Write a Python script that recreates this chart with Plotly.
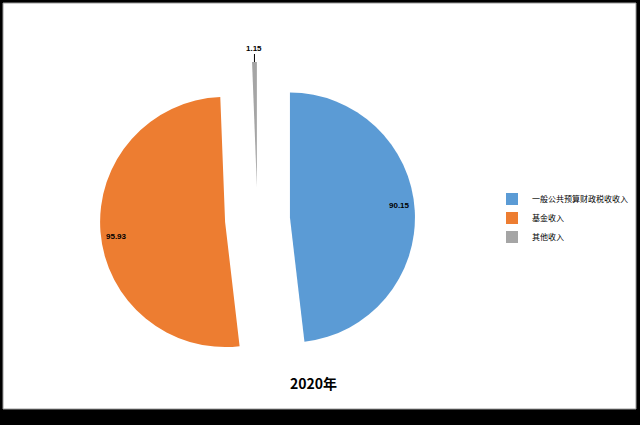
import math
import plotly.graph_objects as go

labels = ["一般公共预算财政税收收入", "基金收入", "其他收入"]
values = [90.15, 95.93, 1.15]
colors = ["#5B9BD5", "#ED7D31", "#A5A5A5"]
title_text = "2020年"

W, H = 640, 425
PULL = 0.26
LABEL_ANGLE_SHIFT = math.radians(-2.5)
# pie domain in pixels
dom_l, dom_r, dom_t, dom_b = 100, 415, 62, 377
cx_px = (dom_l + dom_r) / 2
cy_px = (dom_t + dom_b) / 2
r_px = min(dom_r - dom_l, dom_b - dom_t) / (2 * (1 + PULL))

fig = go.Figure(go.Pie(
    labels=labels,
    values=values,
    sort=False,
    direction="clockwise",
    rotation=0,
    pull=[PULL] * len(values),
    marker=dict(colors=colors, line=dict(width=0)),
    textinfo="none",
    hoverinfo="label+value",
    domain=dict(x=[dom_l / W, dom_r / W], y=[1 - dom_b / H, 1 - dom_t / H]),
))

# data labels placed from the slice angles
total = sum(values)
annotations = []
cum = 0.0
for i, v in enumerate(values):
    mid = (cum + v / 2) / total * 2 * math.pi
    cum += v
    if v / total > 0.05:
        ang = mid + LABEL_ANGLE_SHIFT
        dist = (PULL + 0.88) * r_px
        px = cx_px + dist * math.sin(ang)
        py = cy_px - dist * math.cos(ang)
        annotations.append(dict(
            x=px / W, y=1 - py / H, xref="paper", yref="paper",
            xanchor="center", yanchor="middle",
            text=f"<b>{v:.2f}</b>", showarrow=False,
            font=dict(family="Liberation Sans", size=8, color="#000000"),
        ))
    else:
        dist = (PULL + 1.0) * r_px
        px = cx_px + dist * math.sin(mid)
        py = cy_px - dist * math.cos(mid)
        annotations.append(dict(
            x=px / W, y=1 - py / H, xref="paper", yref="paper",
            text=f"<b>{v:.2f}</b>", showarrow=True, arrowhead=0,
            arrowwidth=1, arrowcolor="#000000", ax=0, ay=-14,
            font=dict(family="Liberation Sans", size=8, color="#000000"),
        ))

annotations.append(dict(
    x=313 / W, y=1 - 383 / H, xref="paper", yref="paper",
    xanchor="center", yanchor="middle",
    text=f"<b>{title_text}</b>", showarrow=False,
    font=dict(family="Noto Sans CJK SC", size=14, color="#000000"),
))

fig.update_layout(
    width=W, height=H, autosize=False,
    margin=dict(l=0, r=0, t=0, b=0),
    paper_bgcolor="#000000",
    plot_bgcolor="#FFFFFF",
    showlegend=True,
    legend=dict(
        x=492 / W, y=1 - 218 / H, xanchor="left", yanchor="middle",
        font=dict(family="Noto Sans CJK SC", size=8, color="#000000"),
        bgcolor="rgba(0,0,0,0)", itemwidth=30, tracegroupgap=0,
    ),
    annotations=annotations,
    shapes=[dict(
        type="rect", xref="paper", yref="paper", layer="below",
        x0=3 / W, x1=636 / W, y0=1 - 409 / H, y1=1 - 3 / H,
        fillcolor="#FFFFFF", line=dict(color="#9A9A9A", width=1),
    )],
)

fig.write_html(
    "out.html",
    config={"displayModeBar": False},
    post_script="document.body.style.margin='0';document.body.style.overflow='hidden';",
)
